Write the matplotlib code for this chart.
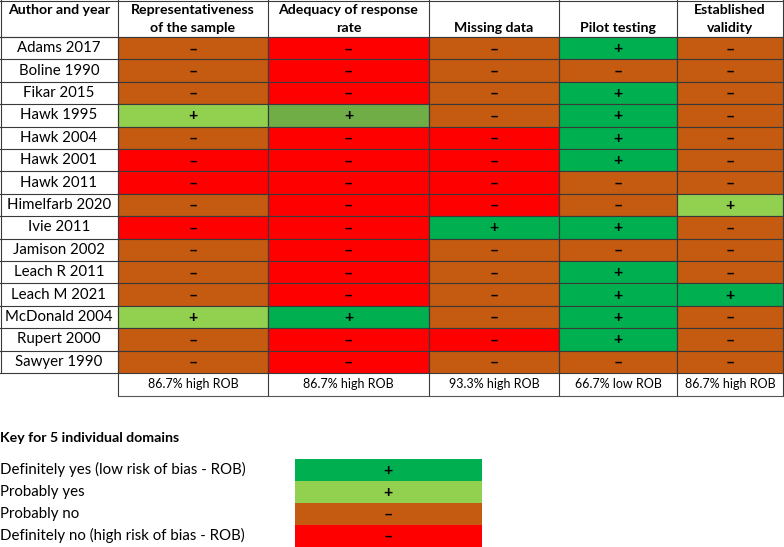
import matplotlib.pyplot as plt
from matplotlib.patches import Rectangle

plt.rcParams['font.family'] = ['Lato', 'DejaVu Sans']

# --- data ---
authors = ["Adams 2017", "Boline 1990", "Fikar 2015", "Hawk 1995", "Hawk 2004",
           "Hawk 2001", "Hawk 2011", "Himelfarb 2020", "Ivie 2011", "Jamison 2002",
           "Leach R 2011", "Leach M 2021", "McDonald 2004", "Rupert 2000", "Sawyer 1990"]
domains = ["Representativeness\nof the sample", "Adequacy of response\nrate",
           "Missing data", "Pilot testing", "Established\nvalidity"]
# DY = definitely yes, PY = probably yes, PG = probably yes (darker shade), PN = probably no, DN = definitely no
representativeness = ["PN", "PN", "PN", "PY", "PN", "DN", "DN", "PN", "DN", "PN", "PN", "PN", "PY", "PN", "PN"]
response_rate      = ["DN", "DN", "DN", "PG", "DN", "DN", "DN", "DN", "DN", "DN", "DN", "DN", "DY", "DN", "DN"]
missing_data       = ["PN", "PN", "PN", "PN", "DN", "DN", "DN", "DN", "DY", "PN", "PN", "PN", "PN", "DN", "PN"]
pilot_testing      = ["DY", "PN", "DY", "DY", "DY", "DY", "PN", "PN", "DY", "PN", "DY", "DY", "DY", "DY", "PN"]
validity           = ["PN", "PN", "PN", "PN", "PN", "PN", "PN", "PY", "PN", "PN", "PN", "DY", "PN", "PN", "PN"]
summary = ["86.7% high ROB", "86.7% high ROB", "93.3% high ROB", "66.7% low ROB", "86.7% high ROB"]

key_labels = ["Definitely yes (low risk of bias - ROB)", "Probably yes",
              "Probably no", "Definitely no (high risk of bias - ROB)"]
key_codes = ["DY", "PY", "PN", "DN"]

colors = {"DY": "#00B050", "PY": "#92D050", "PG": "#70AD47", "PN": "#C55A11", "DN": "#FF0000"}
symbols = {"DY": "+", "PY": "+", "PG": "+", "PN": "–", "DN": "–"}

columns = [representativeness, response_rate, missing_data, pilot_testing, validity]

# --- layout (pixels) ---
W, H = 784, 547
col_x = [0, 118, 268, 429, 559, 677, 783]
header_h = 37
row_h = 22.4
line_c = "#3a3a3a"
fs = 10.8       # regular text
fs_b = 10.2     # bold header text
fs_sym = 11.5

fig = plt.figure(figsize=(W / 100, H / 100), dpi=100)
ax = fig.add_axes([0, 0, 1, 1])
ax.set_xlim(0, W)
ax.set_ylim(H, 0)
ax.axis("off")

# header
ax.text((col_x[0] + col_x[1]) / 2, 10, "Author and year", ha="center", va="center",
        fontsize=fs_b, fontweight="bold")
for j, name in enumerate(domains):
    cx = (col_x[j + 1] + col_x[j + 2]) / 2
    lines = name.split("\n")
    ys = [10, 28] if len(lines) == 2 else [28]
    for ln, yy in zip(lines, ys):
        ax.text(cx, yy, ln, ha="center", va="center", fontsize=fs_b, fontweight="bold")

# body cells
for i, author in enumerate(authors):
    y0 = header_h + i * row_h
    ax.text((col_x[0] + col_x[1]) / 2, y0 + row_h / 2, author, ha="center", va="center", fontsize=fs)
    for j, col in enumerate(columns):
        code = col[i]
        x0 = col_x[j + 1]
        ax.add_patch(Rectangle((x0, y0), col_x[j + 2] - x0, row_h, facecolor=colors[code],
                               edgecolor=line_c, linewidth=0.8))
        ax.text((x0 + col_x[j + 2]) / 2, y0 + row_h / 2 + 1, symbols[code], ha="center",
                va="center", fontsize=fs_sym, fontweight="bold")

# grid lines for header and author column
body_bottom = header_h + len(authors) * row_h
ax.plot([0, W - 1], [0.5, 0.5], color=line_c, lw=0.8)
ax.plot([0, W - 1], [header_h, header_h], color=line_c, lw=0.8)
for x in col_x:
    ax.plot([x + 0.5, x + 0.5], [0, body_bottom], color=line_c, lw=0.8)
for i in range(len(authors) + 1):
    yy = header_h + i * row_h
    ax.plot([0, col_x[1]], [yy, yy], color=line_c, lw=0.8)

# summary row
sum_bottom = body_bottom + 22.5
for j, s in enumerate(summary):
    ax.text((col_x[j + 1] + col_x[j + 2]) / 2, body_bottom + 11.5, s, ha="center", va="center", fontsize=9.0)
for x in col_x[1:]:
    ax.plot([x + 0.5, x + 0.5], [body_bottom, sum_bottom], color=line_c, lw=0.8)
ax.plot([col_x[1], W - 1], [sum_bottom, sum_bottom], color="#555555", lw=0.8)

# key
ax.text(0, 438, "Key for 5 individual domains", ha="left", va="center", fontsize=fs_b, fontweight="bold")
key_top = 459
key_h = 21.9
for k, (lab, code) in enumerate(zip(key_labels, key_codes)):
    y0 = key_top + k * key_h
    ax.text(0, y0 + key_h / 2, lab, ha="left", va="center", fontsize=fs)
    ax.add_patch(Rectangle((295, y0), 187, key_h, facecolor=colors[code], edgecolor="none"))
    ax.text(388, y0 + key_h / 2 + 1, symbols[code], ha="center", va="center", fontsize=fs_sym, fontweight="bold")

fig.savefig("out.png", dpi=100)
